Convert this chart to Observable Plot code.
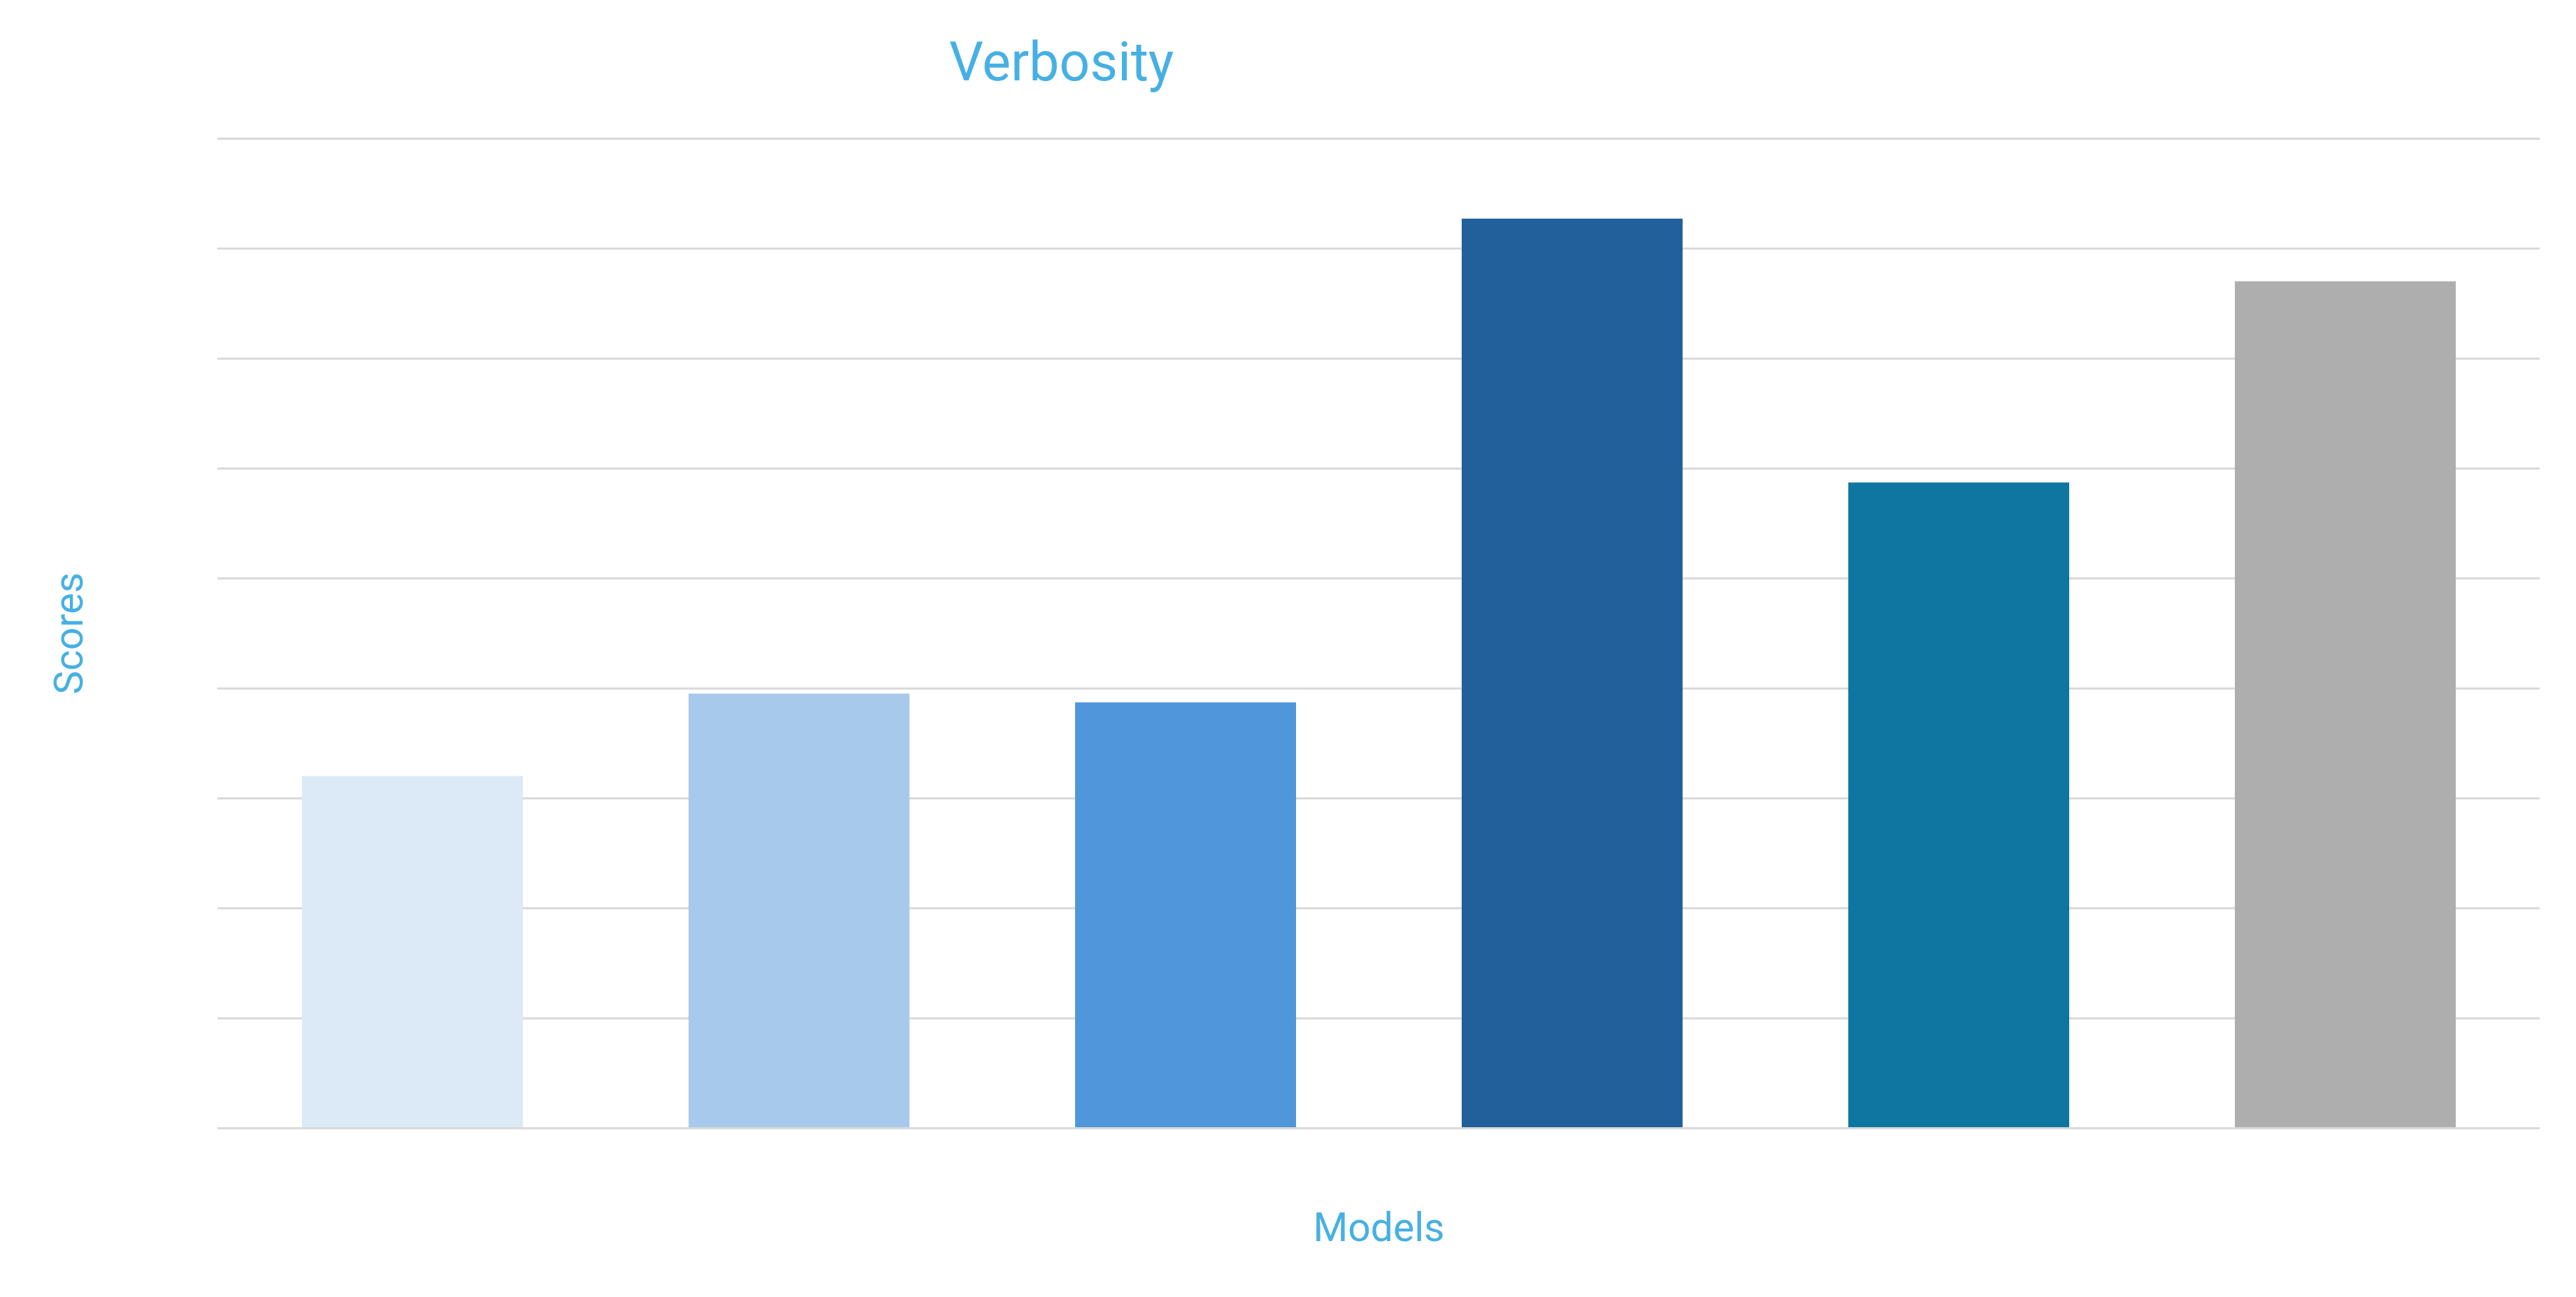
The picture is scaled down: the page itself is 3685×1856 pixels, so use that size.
<!DOCTYPE html>
<html>
<head>
<meta charset="utf-8">
<script src="https://cdn.jsdelivr.net/npm/d3@7"></script>
<script src="https://cdn.jsdelivr.net/npm/@observablehq/plot@0.6"></script>
<style>
  html, body { margin: 0; padding: 0; background: #ffffff; }
  #chart svg { display: block; }
</style>
</head>
<body>
<div id="chart"></div>
<script>
// Categories (tick labels are not visible in the reference)
const models = ["Model 1", "Model 2", "Model 3", "Model 4", "Model 5", "Model 6"];
// Scores (grid step = 1)
const scores = [3.20, 3.95, 3.87, 8.27, 5.87, 7.70];
// Bar colours
const barColors = ["#DCE9F6", "#A7CAEC", "#5096DA", "#22609B", "#0E76A0", "#AEAEAE"];
// Gridline values
const yTicks = [0, 1, 2, 3, 4, 5, 6, 7, 8, 9];
// Texts
const titleText = "Verbosity";
const xLabel = "Models";
const yLabel = "Scores";

const data = models.map((m, i) => ({model: m, score: scores[i], color: barColors[i]}));
const textColor = "#47B0E2";

const chart = Plot.plot({
  width: 3685,
  height: 1856,
  marginTop: 198,
  marginBottom: 242,
  marginLeft: 311,
  marginRight: 52,
  style: {fontFamily: "Roboto, 'Open Sans', sans-serif", background: "#ffffff"},
  x: {domain: models, paddingInner: 0.4293, paddingOuter: 0.2147, axis: null},
  y: {domain: [0, 9], axis: null},
  color: {type: "identity"},
  marks: [
    Plot.ruleY(yTicks, {stroke: "#d9d9d9", strokeWidth: 3}),
    Plot.barY(data, {x: "model", y: "score", fill: "color"}),
    Plot.ruleY([0], {stroke: "#d9d9d9", strokeWidth: 3}),
    Plot.text([titleText], {text: d => d, frameAnchor: "top", lineAnchor: "bottom", dx: -454, dy: -84, fontSize: 77, fill: textColor}),
    Plot.text([xLabel], {text: d => d, frameAnchor: "bottom", lineAnchor: "bottom", dy: 161, fontSize: 57, fill: textColor}),
    Plot.text([yLabel], {text: d => d, frameAnchor: "left", lineAnchor: "bottom", textAnchor: "middle", rotate: -90, dx: -194, fontSize: 57, fill: textColor})
  ]
});
document.getElementById("chart").appendChild(chart);
</script>
</body>
</html>
